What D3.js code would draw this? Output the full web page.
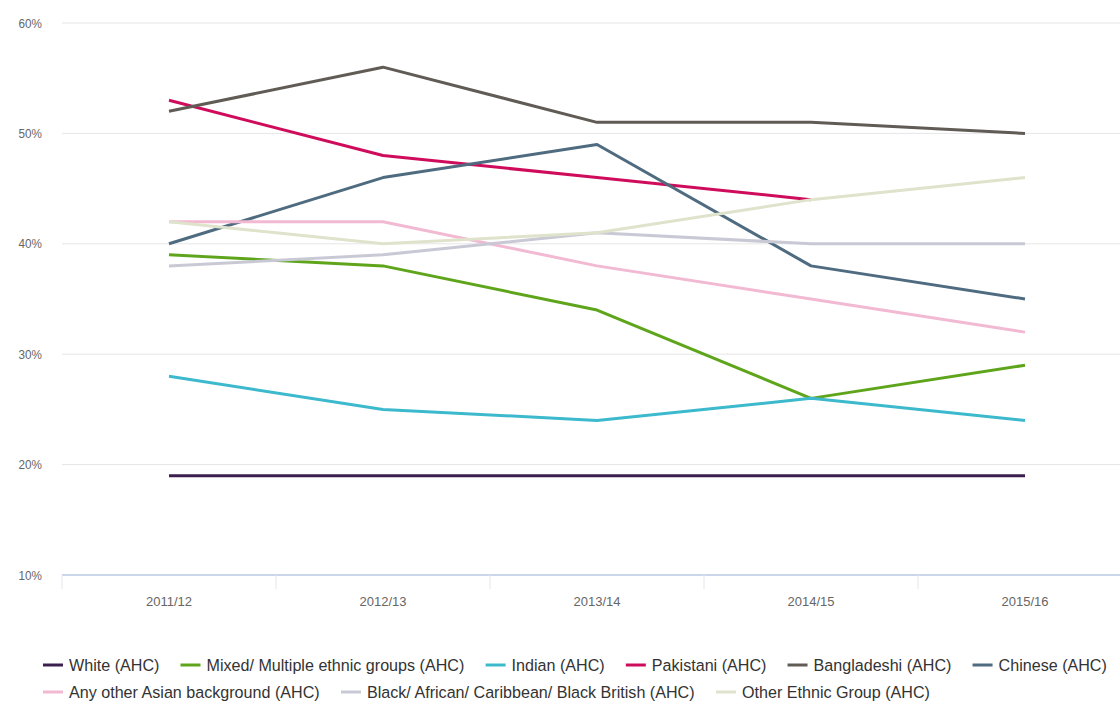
<!DOCTYPE html>
<html><head><meta charset="utf-8">
<script src="https://cdn.jsdelivr.net/npm/d3@7"></script>
<style>
html,body{margin:0;padding:0;background:#fff;}
svg{display:block;font-family:"Liberation Sans",Arial,sans-serif;}
</style></head>
<body><svg id="c" width="1120" height="707"></svg>
<script>
const categories = ["2011/12","2012/13","2013/14","2014/15","2015/16"];
const yTicks = [10,20,30,40,50,60];
const seriesNames = ["White (AHC)","Mixed/ Multiple ethnic groups (AHC)","Indian (AHC)","Pakistani (AHC)","Bangladeshi (AHC)","Chinese (AHC)","Any other Asian background (AHC)","Black/ African/ Caribbean/ Black British (AHC)","Other Ethnic Group (AHC)"];
const white = [19,19,19,19,19];
const mixed = [39,38,34,26,29];
const indian = [28,25,24,26,24];
const pakistani = [53,48,46,44,null];
const bangladeshi = [52,56,51,51,50];
const chinese = [40,46,49,38,35];
const otherAsian = [42,42,38,35,32];
const black = [38,39,41,40,40];
const otherEthnic = [42,40,41,44,46];
const colors = ["#3b1f4e","#5ea51c","#3cb9cc","#cf0c5c","#605b55","#4e6b80","#f2b9d2","#c9c9d6","#dfe3cc"];
const seriesValues = [white,mixed,indian,pakistani,bangladeshi,chinese,otherAsian,black,otherEthnic];

(function(){
const svg = d3.select("#c");
const mL = 62, mR = 1132, mT = 23, mB = 575;
const x = d3.scaleBand().domain(categories).range([mL,mR]);
const y = d3.scaleLinear().domain([10,60]).range([mB,mT]);

svg.append("g").selectAll("line").data(yTicks.filter(d=>d>10)).join("line")
  .attr("x1",mL).attr("x2",1120).attr("y1",d=>y(d)).attr("y2",d=>y(d))
  .attr("stroke","#e6e6e6").attr("stroke-width",1);

const ya = svg.append("g").attr("transform",`translate(${mL-18},0)`)
  .call(d3.axisLeft(y).tickValues(yTicks).tickSize(0).tickFormat(d=>d+"%"));
ya.select(".domain").remove();
ya.selectAll("text").attr("fill","#666").attr("font-size",13)
  .attr("transform","scale(0.9,1)").attr("x",-2/0.9);

const xa = svg.append("g").attr("transform",`translate(0,${mB})`)
  .call(d3.axisBottom(x).tickSize(0).tickPadding(22));
xa.select(".domain").attr("stroke","#ccd6eb").attr("stroke-width",2).attr("d",`M${mL},0H1120`);
xa.selectAll("text").attr("fill","#666").attr("font-size",13);
svg.append("g").selectAll("line").data(categories).join("line")
  .attr("x1",d=>x(d)).attr("x2",d=>x(d)).attr("y1",mB).attr("y2",mB+14)
  .attr("stroke","#e3e6ee").attr("stroke-width",1);

const line = d3.line().defined(d=>d.v!=null).x(d=>x(d.c)+x.bandwidth()/2).y(d=>y(d.v));
seriesValues.forEach((vals,i)=>{
  svg.append("path").datum(vals.map((v,j)=>({c:categories[j],v})))
    .attr("d",line).attr("fill","none").attr("stroke",colors[i]).attr("stroke-width",3)
    .attr("stroke-linejoin","round");
});

// legend: condensed text to mimic the narrow font of the original
const lg = svg.append("g");
const rowsY = [665,692];
const fs = 17, symW = 20, txtOff = 26, gap = 21, startX = 43, firstRowEnd = 1107, perRow = 6;
const widths = seriesNames.map(n=>{
  const p = lg.append("text").attr("font-size",fs).text(n);
  const w = p.node().getComputedTextLength(); p.remove(); return w;
});
const row1W = d3.sum(widths.slice(0,perRow));
const k = (firstRowEnd - startX - perRow*txtOff - (perRow-1)*gap) / row1W;
let cx = startX;
seriesNames.forEach((n,i)=>{
  const row = i < perRow ? 0 : 1;
  if (i === perRow) cx = startX;
  const g = lg.append("g").attr("transform",`translate(${cx},${rowsY[row]})`);
  g.append("line").attr("x1",0).attr("x2",symW).attr("y1",0).attr("y2",0)
    .attr("stroke",colors[i]).attr("stroke-width",3);
  g.append("text").attr("transform",`translate(${txtOff},6) scale(${k},1)`)
    .attr("font-size",fs).attr("fill","#333").text(n);
  cx += txtOff + k*widths[i] + gap;
});
})();
</script></body></html>
